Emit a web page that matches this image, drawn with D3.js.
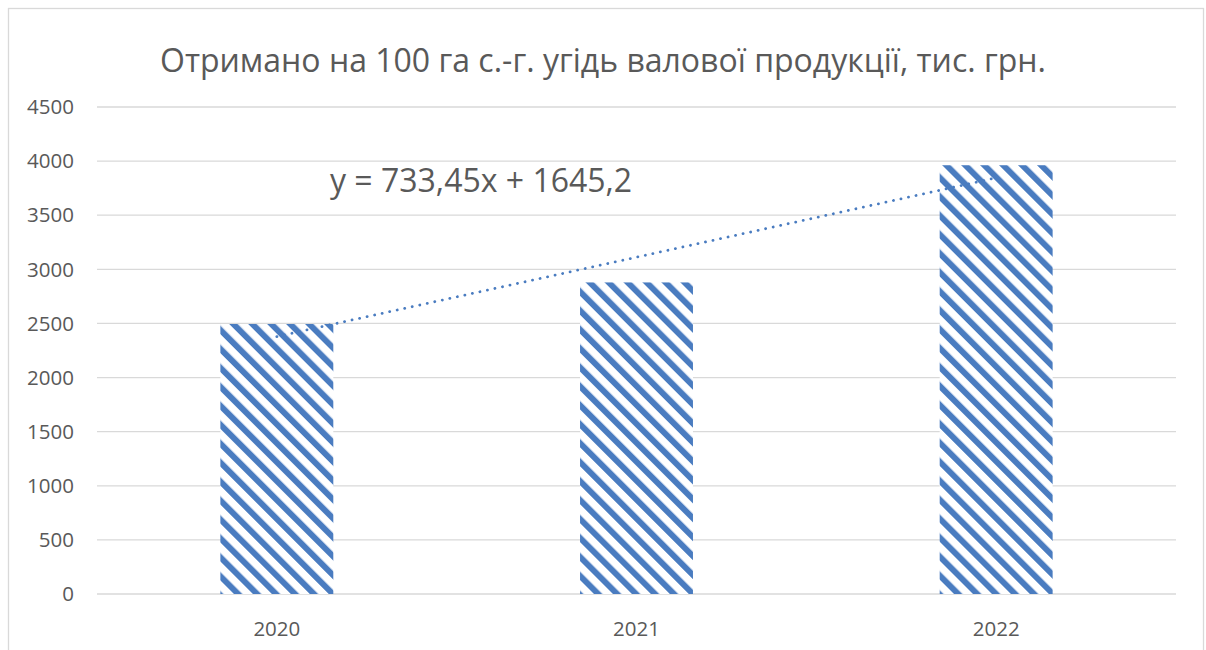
<!DOCTYPE html>
<html lang="uk">
<head>
    <meta charset="UTF-8">
    <title>Отримано на 100 га с.-г. угідь валової продукції</title>
    <script src="https://d3js.org/d3.v7.min.js"></script>
    <style>
        body {
            margin: 0;
            background: #fff;
            overflow: hidden;
            font-family: 'Open Sans', 'Liberation Sans', sans-serif;
        }
        svg { display: block; }
        .grid line { stroke: #d9d9d9; stroke-width: 1.3; }
        .tick-label { fill: #595959; font-size: 20.5px; }
    </style>
</head>
<body>
<svg></svg>
<script>
    // chart data
    const years = ["2020", "2021", "2022"];
    const values = [2495, 2879, 3962];
    const yTicks = [0, 500, 1000, 1500, 2000, 2500, 3000, 3500, 4000, 4500];
    const trendSlope = 733.45;
    const trendIntercept = 1645.2;
    const title = "Отримано на 100 га с.-г. угідь валової продукції, тис. грн.";

    const width = 1206, height = 650;
    const svg = d3.select("svg").attr("width", width).attr("height", height);

    // stripes, like Excel's wide downward diagonal fill
    const defs = svg.append("defs");
    const pat = defs.append("pattern")
        .attr("id", "stripes")
        .attr("patternUnits", "userSpaceOnUse")
        .attr("width", 13.4).attr("height", 13.4)
        .attr("patternTransform", "rotate(-45)");
    pat.append("rect").attr("width", 13.4).attr("height", 13.4).attr("fill", "#fff");
    pat.append("rect").attr("x", 0).attr("width", 6).attr("height", 13.4).attr("fill", "#4a7cc0");

    // outer chart border
    svg.append("rect")
        .attr("x", 8.5).attr("y", 8.5)
        .attr("width", 1195).attr("height", 700)
        .attr("fill", "none")
        .attr("stroke", "#d9d9d9")
        .attr("stroke-width", 1.3);

    const x = d3.scaleBand().domain(years).range([97, 1176]).paddingInner(0.686).paddingOuter(0.343);
    const y = d3.scaleLinear().domain([0, 4500]).range([594, 107]);

    // gridlines
    svg.append("g").attr("class", "grid")
        .selectAll("line").data(yTicks).enter().append("line")
        .attr("x1", 97).attr("x2", 1176)
        .attr("y1", d => y(d)).attr("y2", d => y(d));

    // y labels
    svg.append("g").selectAll("text").data(yTicks).enter().append("text")
        .attr("class", "tick-label")
        .attr("x", 74).attr("y", d => y(d))
        .attr("dy", "0.35em")
        .attr("text-anchor", "end")
        .text(d => d);

    // bars
    svg.append("g").selectAll("rect").data(values).enter().append("rect")
        .attr("x", (d, i) => x(years[i]))
        .attr("y", d => y(d))
        .attr("width", x.bandwidth())
        .attr("height", d => y(0) - y(d))
        .attr("fill", "url(#stripes)");

    // x labels
    svg.append("g").selectAll("text").data(years).enter().append("text")
        .attr("class", "tick-label")
        .attr("x", d => x(d) + x.bandwidth() / 2)
        .attr("y", 629)
        .attr("dy", "0.35em")
        .attr("text-anchor", "middle")
        .text(d => d);

    // linear trendline
    const trendPts = years.map((yr, i) => [x(yr) + x.bandwidth() / 2, y(trendSlope * (i + 1) + trendIntercept)]);
    svg.append("line")
        .attr("x1", trendPts[0][0]).attr("y1", trendPts[0][1])
        .attr("x2", trendPts[2][0]).attr("y2", trendPts[2][1])
        .attr("stroke", "#4a7cc0")
        .attr("stroke-width", 2.8)
        .attr("stroke-linecap", "round")
        .attr("stroke-dasharray", "0.1,7.6");

    svg.append("text")
        .attr("x", 330).attr("y", 192)
        .attr("fill", "#595959")
        .attr("font-size", 32)
        .text("y = 733,45x + 1645,2");

    // title
    svg.append("text")
        .attr("x", 603).attr("y", 72)
        .attr("text-anchor", "middle")
        .attr("fill", "#595959")
        .attr("font-size", 32)
        .text(title);
</script>
</body>
</html>
